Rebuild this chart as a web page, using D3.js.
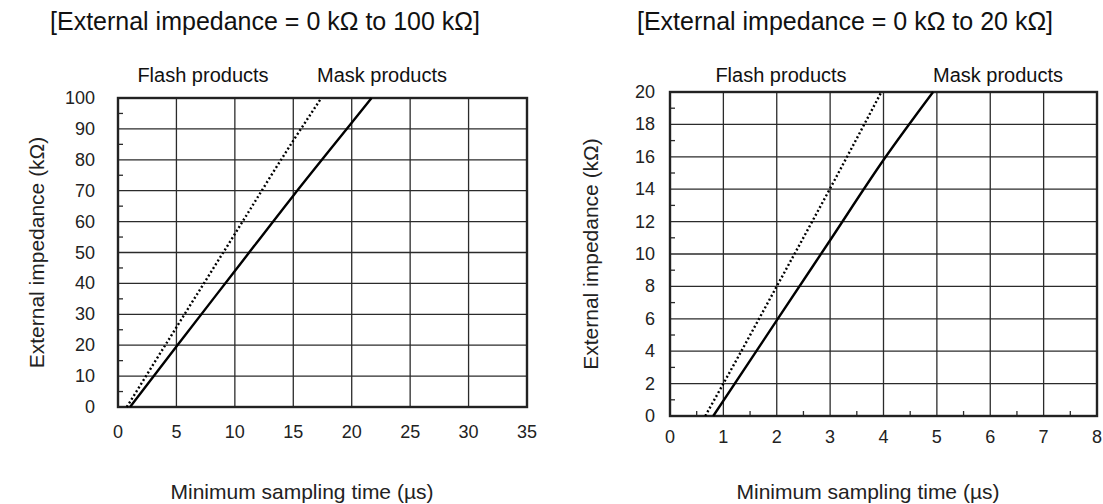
<!DOCTYPE html>
<html>
<head>
<meta charset="utf-8">
<script src="https://cdn.jsdelivr.net/npm/d3@7"></script>
<style>
  body { margin: 0; background: #fff; }
  svg { display: block; font-family: "Liberation Sans", Arial, sans-serif; }
</style>
</head>
<body>
<div id="chart"></div>
<script>
// values
const seriesNames = ["Flash products", "Mask products"];

// left panel: 0 to 100 kOhm
const leftXTicks = [0, 5, 10, 15, 20, 25, 30, 35];
const leftYTicks = [0, 10, 20, 30, 40, 50, 60, 70, 80, 90, 100];
const leftYMinor = [5, 15, 25, 35, 45, 55, 65, 75, 85, 95];
const leftFlash = [[0.75, 0], [5, 25.8], [10, 56], [15, 86.2], [17.4, 100]];
const leftMask = [[1.03, 0], [5, 19.6], [10, 44], [15, 68.4], [20, 92], [21.7, 100]];

// right panel: 0 to 20 kOhm
const rightXTicks = [0, 1, 2, 3, 4, 5, 6, 7, 8];
const rightXMinor = [0.5, 1.5, 2.5, 3.5, 4.5, 5.5, 6.5, 7.5];
const rightYTicks = [0, 2, 4, 6, 8, 10, 12, 14, 16, 18, 20];
const rightYMinor = [1, 3, 5, 7, 9, 11, 13, 15, 17, 19];
const rightFlash = [[0.66, 0], [1, 2], [2, 8], [3, 14.05], [3.96, 20]];
const rightMask = [[0.81, 0], [2, 5.9], [3, 10.85], [4, 15.8], [4.93, 20]];

const width = 1103, height = 504;

const svg = d3.select("#chart")
    .append("svg")
    .attr("width", width)
    .attr("height", height);

function drawPanel(p) {
    const x = d3.scaleLinear().domain([0, d3.max(p.xTicks)]).range([p.left, p.right]);
    const y = d3.scaleLinear().domain([0, d3.max(p.yTicks)]).range([p.bottom, p.top]);
    const g = svg.append("g");

    // title
    g.append("text")
        .attr("x", p.titleX)
        .attr("y", 30)
        .attr("text-anchor", "middle")
        .style("font-size", "25px")
        .style("fill", "#111")
        .text(p.title);

    // grid
    g.append("g")
        .selectAll("line")
        .data(p.xTicks.slice(1, -1))
        .join("line")
        .attr("x1", d => x(d)).attr("x2", d => x(d))
        .attr("y1", p.top).attr("y2", p.bottom)
        .attr("stroke", "#2b2b2b").attr("stroke-width", 1.3);
    g.append("g")
        .selectAll("line")
        .data(p.yTicks.slice(1, -1))
        .join("line")
        .attr("y1", d => y(d)).attr("y2", d => y(d))
        .attr("x1", p.left).attr("x2", p.right)
        .attr("stroke", "#2b2b2b").attr("stroke-width", 1.3);

    // minor ticks, pointing inward
    g.append("g")
        .selectAll("line")
        .data(p.yMinor)
        .join("line")
        .attr("y1", d => y(d)).attr("y2", d => y(d))
        .attr("x1", p.left).attr("x2", p.left + 5)
        .attr("stroke", "#2b2b2b").attr("stroke-width", 1.3);
    g.append("g")
        .selectAll("line")
        .data(p.xMinor)
        .join("line")
        .attr("x1", d => x(d)).attr("x2", d => x(d))
        .attr("y1", p.bottom).attr("y2", p.bottom - 5)
        .attr("stroke", "#2b2b2b").attr("stroke-width", 1.3);

    // frame
    g.append("rect")
        .attr("x", p.left).attr("y", p.top)
        .attr("width", p.right - p.left).attr("height", p.bottom - p.top)
        .attr("fill", "none")
        .attr("stroke", "#222").attr("stroke-width", 2.4);

    // tick labels
    g.append("g")
        .selectAll("text")
        .data(p.yTicks)
        .join("text")
        .attr("x", p.left - p.yLabelGap)
        .attr("y", d => y(d))
        .attr("text-anchor", "end")
        .attr("dominant-baseline", "central")
        .style("font-size", "18px")
        .style("fill", "#222")
        .text(d => d);
    g.append("g")
        .selectAll("text")
        .data(p.xTicks)
        .join("text")
        .attr("x", d => x(d))
        .attr("y", p.bottom + p.xLabelGap)
        .attr("text-anchor", "middle")
        .attr("dominant-baseline", "central")
        .style("font-size", "18px")
        .style("fill", "#222")
        .text(d => d);

    // axis titles
    g.append("text")
        .attr("transform", `translate(${p.yTitleX},${(p.top + p.bottom) / 2}) rotate(-90)`)
        .attr("text-anchor", "middle")
        .attr("dominant-baseline", "central")
        .style("font-size", "21px")
        .style("fill", "#222")
        .text("External impedance (kΩ)");
    g.append("text")
        .attr("x", p.xTitleX)
        .attr("y", 499)
        .attr("text-anchor", "middle")
        .style("font-size", "21px")
        .style("fill", "#222")
        .text("Minimum sampling time (µs)");

    // series labels
    g.append("text")
        .attr("x", p.flashLabelX).attr("y", 82)
        .attr("text-anchor", "middle")
        .style("font-size", "20px")
        .style("fill", "#111")
        .text(seriesNames[0]);
    g.append("text")
        .attr("x", p.maskLabelX).attr("y", 82)
        .attr("text-anchor", "middle")
        .style("font-size", "20px")
        .style("fill", "#111")
        .text(seriesNames[1]);

    const line = d3.line()
        .x(d => x(d[0]))
        .y(d => y(d[1]))
        .curve(d3.curveMonotoneX);

    g.append("path")
        .datum(p.flash)
        .attr("d", line)
        .attr("fill", "none")
        .attr("stroke", "#000")
        .attr("stroke-width", 2.4)
        .attr("stroke-dasharray", "2,2.4");
    g.append("path")
        .datum(p.mask)
        .attr("d", line)
        .attr("fill", "none")
        .attr("stroke", "#000")
        .attr("stroke-width", 2.4);
}

drawPanel({
    title: "[External impedance = 0 kΩ to 100 kΩ]", titleX: 265,
    left: 118, right: 527, top: 98, bottom: 407,
    xTicks: leftXTicks, yTicks: leftYTicks, xMinor: [], yMinor: leftYMinor,
    yLabelGap: 23, xLabelGap: 25,
    flash: leftFlash, mask: leftMask,
    yTitleX: 36, xTitleX: 302, flashLabelX: 203, maskLabelX: 382
});

drawPanel({
    title: "[External impedance = 0 kΩ to 20 kΩ]", titleX: 845,
    left: 670, right: 1097, top: 92, bottom: 416,
    xTicks: rightXTicks, yTicks: rightYTicks, xMinor: rightXMinor, yMinor: rightYMinor,
    yLabelGap: 15, xLabelGap: 21,
    flash: rightFlash, mask: rightMask,
    yTitleX: 590, xTitleX: 868, flashLabelX: 781, maskLabelX: 998
});
</script>
</body>
</html>
